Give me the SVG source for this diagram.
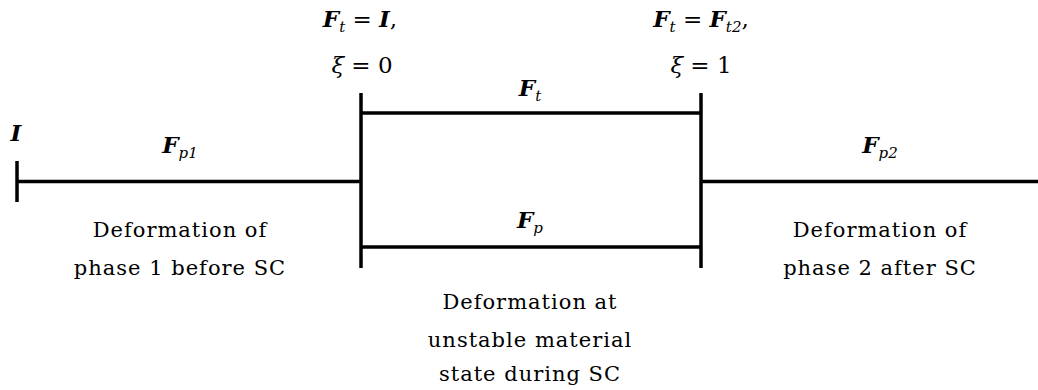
<svg xmlns="http://www.w3.org/2000/svg" width="1038" height="390" viewBox="0 0 1038 390">
<style>
.ln{stroke:#000;stroke-width:3.5;fill:none;stroke-linecap:butt}
.t{font-family:"DejaVu Serif","Liberation Serif",serif;font-size:21px;letter-spacing:1px;fill:#000;text-anchor:middle}
.m{font-family:"DejaVu Serif","Liberation Serif",serif;font-size:23px;fill:#000;text-anchor:middle}
.b{font-weight:bold;font-style:italic}
.i{font-style:italic}
.s{font-size:15px;font-style:italic}
</style>
<rect width="1038" height="390" fill="#fff"/>
<g id="connectors">
<line class="ln" x1="17" y1="161" x2="17" y2="202"/>
<line class="ln" x1="17" y1="181.5" x2="361" y2="181.5"/>
<line class="ln" x1="361" y1="93" x2="361" y2="268"/>
<line class="ln" x1="361" y1="113" x2="701" y2="113"/>
<line class="ln" x1="361" y1="247" x2="701" y2="247"/>
<line class="ln" x1="701" y1="93" x2="701" y2="268"/>
<line class="ln" x1="701" y1="181.5" x2="1038" y2="181.5"/>
</g>
<g id="start">
<text class="m b" x="16" y="141">I</text>
</g>
<g id="phase1">
<text class="m" x="180" y="153"><tspan class="b">F</tspan><tspan class="s" dy="5">p1</tspan></text>
<text class="t" x="180" y="237">Deformation of</text>
<text class="t" x="180" y="275">phase 1 before SC</text>
</g>
<g id="xi0">
<text class="m" x="360" y="27"><tspan class="b">F</tspan><tspan class="s" dy="5">t</tspan><tspan dy="-5"> = </tspan><tspan class="b">I</tspan>,</text>
<text class="m" x="362" y="73"><tspan class="i">ξ</tspan> = 0</text>
</g>
<g id="sc">
<text class="m" x="530" y="96"><tspan class="b">F</tspan><tspan class="s" dy="5">t</tspan></text>
<text class="m" x="530" y="228"><tspan class="b">F</tspan><tspan class="s" dy="5">p</tspan></text>
<text class="t" x="530" y="309">Deformation at</text>
<text class="t" x="530" y="347">unstable material</text>
<text class="t" x="530" y="381">state during SC</text>
</g>
<g id="xi1">
<text class="m" x="701" y="27"><tspan class="b">F</tspan><tspan class="s" dy="5">t</tspan><tspan dy="-5"> = </tspan><tspan class="b">F</tspan><tspan class="s" dy="5">t2</tspan><tspan dy="-5">,</tspan></text>
<text class="m" x="701" y="73"><tspan class="i">ξ</tspan> = 1</text>
</g>
<g id="phase2">
<text class="m" x="880" y="153"><tspan class="b">F</tspan><tspan class="s" dy="5">p2</tspan></text>
<text class="t" x="880" y="237">Deformation of</text>
<text class="t" x="880" y="275">phase 2 after SC</text>
</g>
</svg>
